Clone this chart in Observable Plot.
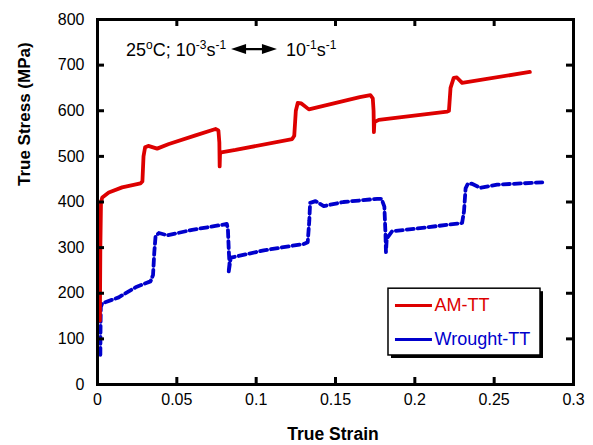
<!DOCTYPE html>
<html><head><meta charset="utf-8">
<script src="https://cdn.jsdelivr.net/npm/d3@7"></script>
<script src="https://cdn.jsdelivr.net/npm/@observablehq/plot@0.6"></script>
<style>body{margin:0;background:#fff}#chart{width:593px;height:445px}</style>
</head><body><div id="chart"></div>
<script>
// AM-TT (red, solid)
const amStrain = [0.0015,0.0018,0.0022,0.003,0.0071,0.0155,0.0271,0.0283,0.0290,0.0300,0.0320,0.0376,0.045,0.0618,0.0744,0.0762,0.0768,0.0770,0.0772,0.078,0.087,0.1227,0.1240,0.1250,0.1262,0.1285,0.1332,0.1653,0.172,0.1735,0.1740,0.1742,0.1745,0.1773,0.2204,0.2215,0.2225,0.2245,0.2265,0.2298,0.2725];
const amStress = [140,300,400,410,421,432,441,445,500,520,523,517,527,546,560,557,530,478,505,509,514,538,545,600,617,616,603,630,634,627,600,553,575,580,598,600,650,672,673,661,685];
// Wrought-TT (blue, dashed)
const wrStrain = [0.0018,0.0019,0.0021,0.003,0.0134,0.024,0.0334,0.0350,0.0358,0.0366,0.0387,0.044,0.0597,0.0786,0.0815,0.0822,0.0828,0.0832,0.0826,0.0840,0.088,0.1048,0.130,0.1325,0.1335,0.134,0.1374,0.1426,0.155,0.1763,0.1790,0.1808,0.1815,0.1818,0.1823,0.1857,0.1994,0.2204,0.2298,0.2310,0.232,0.2334,0.2360,0.2414,0.2519,0.2803];
const wrStress = [65,120,170,178,191,213,226,240,290,325,332,327,339,350,352,340,290,265,245,278,281,294,308,312,360,398,402,391,400,407,407,390,330,290,320,336,341,350,354,380,430,440,440,431,438,443];

const seriesNames = ["AM-TT", "Wrought-TT"];
const seriesColors = ["#dd0000", "#0000cc"];
const xTicks = [0, 0.05, 0.1, 0.15, 0.2, 0.25, 0.3];
const xTickLabels = ["0", "0.05", "0.1", "0.15", "0.2", "0.25", "0.3"];
const yTicks = [0, 100, 200, 300, 400, 500, 600, 700, 800];
const xLabel = "True Strain";
const yLabel = "True Stress (MPa)";

const am = amStrain.map((x, i) => ({x, y: amStress[i]}));
const wr = wrStrain.map((x, i) => ({x, y: wrStress[i]}));
const xInner = xTicks.slice(1, -1);
const yInner = yTicks.slice(1, -1);
const FONT = "'Liberation Sans', Arial, Helvetica, sans-serif";

const legendRows = seriesNames.map((name, i) => ({name, color: seriesColors[i], y: i === 0 ? 173 : 98.6, dash: i === 0 ? null : "6,3"}));

const plot = Plot.plot({
  width: 593, height: 445,
  marginTop: 19, marginRight: 20, marginBottom: 61, marginLeft: 97,
  x: {domain: [0, 0.3]},
  y: {domain: [0, 800]},
  style: {fontFamily: FONT, fontSize: "16px", color: "black", background: "white"},
  marks: [
    Plot.axisX({ticks: xTicks, tickSize: 0, tickPadding: 9, label: null, fontSize: 16,
      tickFormat: d => xTickLabels[xTicks.indexOf(d)]}),
    Plot.axisY({ticks: yTicks, tickSize: 0, tickPadding: 13, label: null, fontSize: 16}),
    Plot.text([xLabel], {frameAnchor: "bottom", dx: -2.5, dy: 50, lineAnchor: "middle", fontWeight: "bold", fontSize: 17.5}),
    Plot.text([yLabel], {frameAnchor: "left", rotate: -90, dx: -73, dy: -16, lineAnchor: "middle", fontWeight: "bold", fontSize: 17}),
    Plot.line(wr, {x: "x", y: "y", stroke: seriesColors[1], strokeWidth: 3.8, strokeDasharray: "7,4", strokeLinejoin: "round"}),
    Plot.line(am, {x: "x", y: "y", stroke: seriesColors[0], strokeWidth: 3.8, strokeLinejoin: "round"}),
    // legend box with shadow
    Plot.rect([0], {x1: 0.1834, x2: 0.2792, y1: 63.6, y2: 210, fill: "black", dx: 3, dy: 3}),
    Plot.rect([0], {x1: 0.1834, x2: 0.2792, y1: 63.6, y2: 210, fill: "white", stroke: "black", strokeWidth: 1.5}),
    Plot.ruleY(legendRows, {y: "y", x1: 0.1878, x2: 0.2111, stroke: "color", strokeWidth: 3, strokeDasharray: "dash"}),
    Plot.text(legendRows, {x: 0.2124, y: "y", text: "name", fill: "color", textAnchor: "start", fontSize: 18}),
    Plot.frame({stroke: "black", strokeWidth: 3}),
    Plot.tickX(xInner, {x: d => d, insetTop: 358, stroke: "black", strokeWidth: 3}),
    Plot.tickX(xInner, {x: d => d, insetBottom: 358, stroke: "black", strokeWidth: 3}),
    Plot.tickY(yInner, {y: d => d, insetRight: 469, stroke: "black", strokeWidth: 3}),
    Plot.tickY(yInner, {y: d => d, insetLeft: 469, stroke: "black", strokeWidth: 3})
  ]
});

// annotation: 25°C; 10^-3 s^-1 <-> 10^-1 s^-1
const xs = plot.scale("x"), ys = plot.scale("y");
const svg = d3.select(plot);
const ann = {x: 0.0183, y: 719.6, arrowX1: 0.0845, arrowX2: 0.1134, arrowY: 734, x2: 0.1191};
const g = svg.append("g").attr("font-family", FONT).attr("font-size", 18).attr("fill", "black").attr("text-anchor", "start");
function supText(x, parts) {
  const t = g.append("text").attr("x", xs.apply(x)).attr("y", ys.apply(ann.y)).attr("text-anchor", "start");
  let raised = false;
  parts.forEach(([s, sup]) => {
    if (sup) { t.append("tspan").attr("font-size", 12).attr("dy", raised ? 0 : -7).text(s); raised = true; }
    else { t.append("tspan").attr("dy", raised ? 7 : 0).text(s); raised = false; }
  });
}
supText(ann.x, [["25"], ["o", 1], ["C; 10"], ["-3", 1], ["s"], ["-1", 1]]);
supText(ann.x2, [["10"], ["-1", 1], ["s"], ["-1", 1]]);
const ax1 = xs.apply(ann.arrowX1), ax2 = xs.apply(ann.arrowX2), ay = ys.apply(ann.arrowY);
g.append("line").attr("x1", ax1 + 6).attr("x2", ax2 - 6).attr("y1", ay).attr("y2", ay).attr("stroke", "black").attr("stroke-width", 2.2);
g.append("path").attr("d", `M${ax1},${ay} L${ax1 + 15},${ay - 5} L${ax1 + 15},${ay + 5} Z`).attr("fill", "black");
g.append("path").attr("d", `M${ax2},${ay} L${ax2 - 15},${ay - 5} L${ax2 - 15},${ay + 5} Z`).attr("fill", "black");

document.getElementById("chart").appendChild(plot);
</script>
</body></html>
